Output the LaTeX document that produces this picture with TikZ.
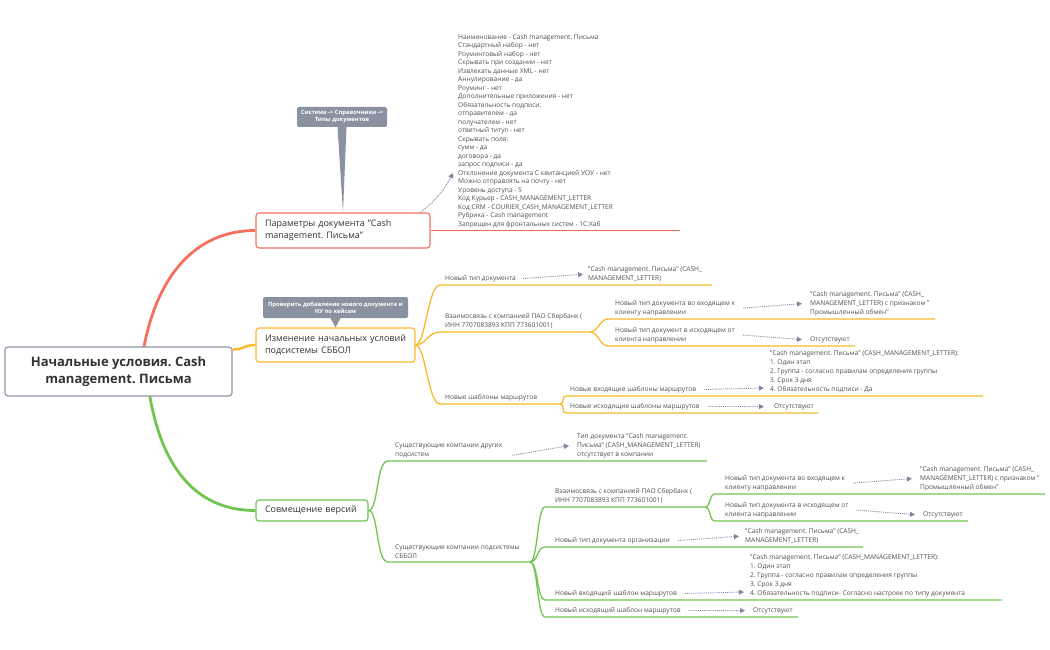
\documentclass[tikz,border=0pt]{standalone}
\usepackage{fontspec}
\setmainfont{Open Sans}
\usepackage{tikz}
\usetikzlibrary{arrows.meta, positioning, calc, backgrounds}
\frenchspacing
\definecolor{redbr}{RGB}{244,112,94}
\definecolor{orbr}{RGB}{250,184,42}
\definecolor{grbr}{RGB}{112,196,80}
\definecolor{rootgray}{RGB}{140,148,165}
\definecolor{notegray}{RGB}{138,146,162}
\definecolor{relblue}{RGB}{125,135,160}
\definecolor{darktext}{RGB}{51,51,51}
\definecolor{leaftext}{RGB}{80,80,80}
\tikzstyle{topic}  = [rectangle, rounded corners=3pt, line width=1.1pt, fill=white, text=darktext, font=\fontsize{9}{12}\selectfont, align=left, inner xsep=9pt]
\tikzstyle{leaf}   = [inner sep=0pt, anchor=south west, align=left, text=leaftext, font=\fontsize{6.6}{8.9}\selectfont]
\tikzstyle{note}   = [rectangle, rounded corners=2pt, fill=notegray, text=white, font=\bfseries\fontsize{5.8}{7}\selectfont, align=center, inner sep=1pt]
\tikzstyle{rel}    = [densely dotted, line width=0.9pt, draw=relblue, -{Triangle[length=5pt,width=5pt]}]
\tikzstyle{obranch} = [draw=orbr, line width=1.3pt]
\tikzstyle{gbranch} = [draw=grbr, line width=1.3pt]

\begin{document}
\begin{tikzpicture}[x=1pt, y=-1pt]
  \useasboundingbox (0,0) rectangle (1050,650);

  % Root and main topics
  \node[topic, draw=rootgray, minimum width=227pt, minimum height=49pt, align=center, font=\bfseries\fontsize{13}{17.5}\selectfont] (root) at (118.5,371.5) {Начальные условия. Cash\\management. Письма};
  \node[topic, draw=redbr, text width=156pt, minimum height=35pt] (param) at (343,230.5) {Параметры документа "Cash\\management. Письма"};
  \node[topic, draw=orbr, text width=141pt, minimum height=34pt] (izm) at (335.5,345) {Изменение начальных условий\\подсистемы СББОЛ};
  \node[topic, draw=grbr, text width=94pt, minimum height=21pt] (sov) at (312,510.5) {Совмещение версий};

  % Notes
  \node[note, minimum width=90pt, minimum height=20pt] (sysnote) at (342,117) {Система -> Справочники ->\\Типы документов};
  \node[note, minimum width=145pt, minimum height=21pt] (chknote) at (335.5,307.5) {Проверить добавление нового документа и\\НУ по кейсам};
  \fill[notegray] ([xshift=-4.5pt]sysnote.south) -- ([xshift=4.5pt]sysnote.south) -- (param.north) -- cycle;
  \fill[notegray] ([xshift=-5pt]chknote.south) -- ([xshift=5pt]chknote.south) -- (izm.north) -- cycle;

  % Main branches
  \begin{scope}[on background layer]
    \draw[redbr, line width=2.8pt] ([xshift=22pt]root.center) .. controls +(8,-80) and +(-70,0) .. (param.west);
    \draw[grbr, line width=2.8pt] ([xshift=28pt]root.center) .. controls +(8,80) and +(-70,0) .. (sov.west);
    \draw[orbr, line width=2.4pt] ([yshift=22pt]root.east) .. controls +(12,0) and +(-12,0) .. (izm.west);
  \end{scope}

  % Parameters
  \node[leaf, font=\fontsize{6.6}{8.5}\selectfont] (info) at (458,228) {Наименование - Cash management. Письма\\Стандартный набор - нет\\Роуминговый набор - нет\\Скрывать при создании - нет\\Извлекать данные XML - нет\\Аннулирование - да\\Роуминг - нет\\Дополнительные приложения - нет\\Обязательность подписи:\\отправителем - да\\получателем - нет\\ответный титул - нет\\Скрывать поля:\\сумм - да\\договора - да\\запрос подписи - да\\Отклонение документа С квитанцией УОУ - нет\\Можно отправлять на почту - нет\\Уровень доступа - 5\\Код Курьер - CASH\_MANAGEMENT\_LETTER\\Код CRM - COURIER\_CASH\_MANAGEMENT\_LETTER\\Рубрика - Cash management\\Запрещен для фронтальных систем - 1С:Хаб};
  \draw[redbr, line width=1.3pt] (param.east) -- (680,230.5);
  \draw[rel] ([xshift=-10pt]param.north east) to[bend right=12] ([shift={(-5pt,-42pt)}]info.west);

  % Initial conditions (orange)
  \coordinate (ntd-s) at (440,285);  \coordinate (ntd-e) at (712,285);
  \coordinate (vzs-s) at (440,332);  \coordinate (vzs-e) at (590,332);
  \coordinate (nsm-s) at (440,404);  \coordinate (nsm-e) at (560,404);
  \coordinate (vin-s) at (608,319);  \coordinate (vin-e) at (935,319);
  \coordinate (vout-s) at (608,346); \coordinate (vout-e) at (855,346);
  \coordinate (rin-s) at (566,396);  \coordinate (rin-e) at (983,396);
  \coordinate (rout-s) at (566,413); \coordinate (rout-e) at (818,413);
  \draw[obranch] (izm.east) .. controls +(10,0) and +(-12,0) .. (ntd-s) -- (ntd-e);
  \draw[obranch] (izm.east) .. controls +(10,0) and +(-12,0) .. (vzs-s) -- (vzs-e);
  \draw[obranch] (izm.east) .. controls +(10,0) and +(-12,0) .. (nsm-s) -- (nsm-e);
  \draw[obranch] (vzs-e) .. controls +(8,0) and +(-8,0) .. (vin-s) -- (vin-e);
  \draw[obranch] (vzs-e) .. controls +(8,0) and +(-8,0) .. (vout-s) -- (vout-e);
  \draw[obranch] (nsm-e) .. controls +(5,0) and +(-5,0) .. (rin-s) -- (rin-e);
  \draw[obranch] (nsm-e) .. controls +(5,0) and +(-5,0) .. (rout-s) -- (rout-e);

  \node[leaf] (ntd) at (445,282) {Новый тип документа};
  \node[leaf] (vzs) at (445,329) {Взаимосвязь с компанией ПАО Сбербанк (\\ИНН 7707083893 КПП 773601001)};
  \node[leaf] (nsm) at (445,401) {Новые шаблоны маршрутов};
  \node[leaf] (vin) at (615,316) {Новый тип документа во входящем к\\клиенту направлении};
  \node[leaf] (vout) at (615,343) {Новый тип документ в исходящем от\\клиента направлении};
  \node[leaf] (rin) at (570,393) {Новые входящие шаблоны маршрутов};
  \node[leaf] (rout) at (570,410) {Новые исходящие шаблоны маршрутов};

  \node[leaf] (ntd-t) at (588,282) {"Cash management. Письма" (CASH\_\\MANAGEMENT\_LETTER)};
  \node[leaf] (vin-t) at (810,316) {"Cash management. Письма" (CASH\_\\MANAGEMENT\_LETTER) с признаком "\\Промышленный обмен"};
  \node[leaf] (vout-t) at (810,343) {Отсутствуют};
  \node[leaf] (rin-t) at (770,393) {"Cash management. Письма" (CASH\_MANAGEMENT\_LETTER):\\1. Один этап\\2. Группа - согласно правилам определения группы\\3. Срок 3 дня\\4. Обязательность подписи - Да};
  \node[leaf] (rout-t) at (774,410) {Отсутствуют};

  \draw[rel] ([xshift=7pt]ntd.east) -- ([xshift=-5pt]ntd-t.west);
  \draw[rel] ([xshift=8pt]vin.east) -- ([xshift=-8pt]vin-t.west);
  \draw[rel] ([xshift=8pt]vout.east) -- ([xshift=-8pt]vout-t.west);
  \draw[rel] ([xshift=8pt]rin.east) -- ([shift={(-6pt,5pt)}]rin-t.south west);
  \draw[rel] ([xshift=8pt]rout.east) -- ([xshift=-10pt]rout-t.west);

  % Versions (green)
  \coordinate (oth-s) at (388,461);  \coordinate (oth-e) at (707,461);
  \coordinate (sbb-s) at (388,562);  \coordinate (sbb-e) at (530,562);
  \coordinate (gvz-s) at (545,507);  \coordinate (gvz-e) at (705,507);
  \coordinate (org-s) at (545,547);  \coordinate (org-e) at (863,547);
  \coordinate (gri-s) at (545,600);  \coordinate (gri-e) at (1002,600);
  \coordinate (gro-s) at (545,617);  \coordinate (gro-e) at (798,617);
  \coordinate (gin-s) at (715,494);  \coordinate (gin-e) at (1045,494);
  \coordinate (gout-s) at (715,521); \coordinate (gout-e) at (968,521);
  \draw[gbranch] (sov.east) .. controls +(10,0) and +(-12,0) .. (oth-s) -- (oth-e);
  \draw[gbranch] (sov.east) .. controls +(10,0) and +(-12,0) .. (sbb-s) -- (sbb-e);
  \draw[gbranch] (sbb-e) .. controls +(8,0) and +(-8,0) .. (gvz-s) -- (gvz-e);
  \draw[gbranch] (sbb-e) .. controls +(8,0) and +(-8,0) .. (org-s) -- (org-e);
  \draw[gbranch] (sbb-e) .. controls +(8,0) and +(-8,0) .. (gri-s) -- (gri-e);
  \draw[gbranch] (sbb-e) .. controls +(8,0) and +(-8,0) .. (gro-s) -- (gro-e);
  \draw[gbranch] (gvz-e) .. controls +(6,0) and +(-6,0) .. (gin-s) -- (gin-e);
  \draw[gbranch] (gvz-e) .. controls +(6,0) and +(-6,0) .. (gout-s) -- (gout-e);

  \node[leaf] (oth) at (395,458) {Существующие компании других\\подсистем};
  \node[leaf] (sbb) at (395,559) {Существующие компании подсистемы\\СББОЛ};
  \node[leaf] (gvz) at (555,504) {Взаимосвязь с компанией ПАО Сбербанк (\\ИНН 7707083893 КПП 773601001)};
  \node[leaf] (gin) at (725,491) {Новый тип документа во входящем к\\клиенту направлении};
  \node[leaf] (gout) at (725,518) {Новый тип документа в исходящем от\\клиента направлении};
  \node[leaf] (org) at (555,544) {Новый тип документа организации};
  \node[leaf] (gri) at (555,597) {Новый входящий шаблон маршрутов};
  \node[leaf] (gro) at (555,614) {Новый исходящий шаблон маршрутов};

  \node[leaf] (oth-t) at (577,458) {Тип документа "Cash management.\\Письма" (CASH\_MANAGEMENT\_LETTER)\\отсутствует в компании};
  \node[leaf] (gin-t) at (920,491) {"Cash management. Письма" (CASH\_\\MANAGEMENT\_LETTER) с признаком "\\Промышленный обмен"};
  \node[leaf] (gout-t) at (923,518) {Отсутствуют};
  \node[leaf] (org-t) at (745,544) {"Cash management. Письма" (CASH\_\\MANAGEMENT\_LETTER)};
  \node[leaf] (gri-t) at (750,597) {"Cash management. Письма" (CASH\_MANAGEMENT\_LETTER):\\1. Один этап\\2. Группа - согласно правилам определения группы\\3. Срок 3 дня\\4. Обязательность подписи- Согласно настроек по типу документа};
  \node[leaf] (gro-t) at (753,614) {Отсутствуют};

  \draw[rel] ([shift={(10pt,-5pt)}]oth.east) -- ([xshift=-8pt]oth-t.west);
  \draw[rel] ([xshift=8pt]gin.east) -- ([xshift=-8pt]gin-t.west);
  \draw[rel] ([xshift=8pt]gout.east) -- ([xshift=-8pt]gout-t.west);
  \draw[rel] ([xshift=8pt]org.east) -- ([xshift=-6pt]org-t.west);
  \draw[rel] ([xshift=8pt]gri.east) -- ([shift={(-6pt,5pt)}]gri-t.south west);
  \draw[rel] ([xshift=8pt]gro.east) -- ([xshift=-8pt]gro-t.west);
\end{tikzpicture}
\end{document}
